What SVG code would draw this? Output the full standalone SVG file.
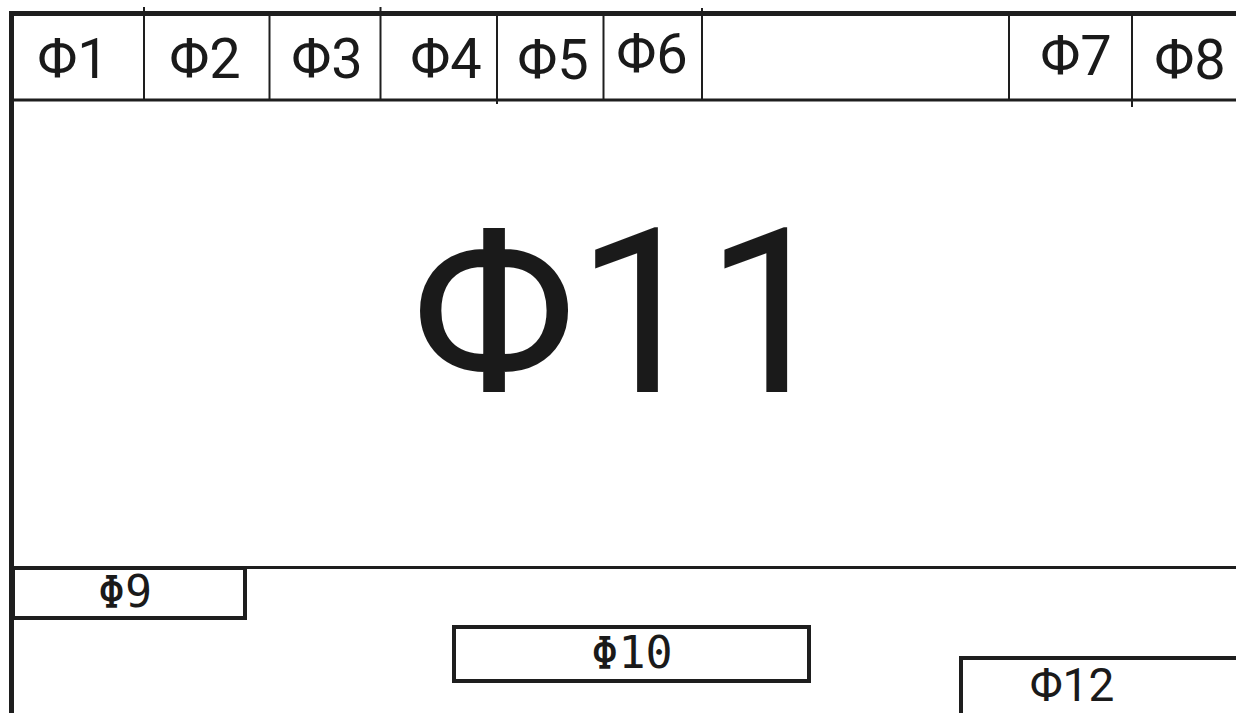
<svg xmlns="http://www.w3.org/2000/svg" width="1236" height="713" viewBox="0 0 1236 713">
<style>
.ln{stroke:#1e1e1e;fill:none}
.bx{stroke:#1e1e1e;fill:#fff;stroke-width:4}
.hd{font-family:Roboto,"Liberation Sans",sans-serif;font-size:56px;fill:#1a1a1a;text-anchor:middle}
.mono{font-family:"DejaVu Sans Mono","Liberation Mono",monospace;font-size:45px;fill:#1a1a1a;text-anchor:middle}
</style>
<rect width="1236" height="713" fill="#fff"/>
<g id="frame">
<line class="ln" x1="11.5" y1="11" x2="11.5" y2="713" stroke-width="5"/>
<line class="ln" x1="9" y1="13.5" x2="1236" y2="13.5" stroke-width="5"/>
<line class="ln" x1="11" y1="100" x2="1236" y2="100" stroke-width="3"/>
<line class="ln" x1="11" y1="567.5" x2="1236" y2="567.5" stroke-width="3"/>
</g>
<g id="dividers">
<line class="ln" x1="144" y1="7" x2="144" y2="101" stroke-width="2"/>
<line class="ln" x1="269.5" y1="11" x2="269.5" y2="101" stroke-width="2"/>
<line class="ln" x1="380.5" y1="7" x2="380.5" y2="101" stroke-width="2"/>
<line class="ln" x1="497" y1="11" x2="497" y2="104" stroke-width="2"/>
<line class="ln" x1="603.5" y1="11" x2="603.5" y2="101" stroke-width="2"/>
<line class="ln" x1="702" y1="8" x2="702" y2="101" stroke-width="2"/>
<line class="ln" x1="1009" y1="11" x2="1009" y2="101" stroke-width="2"/>
<line class="ln" x1="1132" y1="11" x2="1132" y2="107" stroke-width="2"/>
</g>
<g id="n1"><text class="hd" x="73" y="78">Φ1</text></g>
<g id="n2"><text class="hd" x="205" y="78">Φ2</text></g>
<g id="n3"><text class="hd" x="327" y="78">Φ3</text></g>
<g id="n4"><text class="hd" x="446" y="78">Φ4</text></g>
<g id="n5"><text class="hd" x="553" y="79">Φ5</text></g>
<g id="n6"><text class="hd" x="652" y="73">Φ6</text></g>
<g id="n7"><text class="hd" x="1076" y="75">Φ7</text></g>
<g id="n8"><text class="hd" x="1190" y="79">Φ8</text></g>
<g id="n11"><text x="623" y="392" font-family="Roboto,'Liberation Sans',sans-serif" font-size="230" fill="#1a1a1a" text-anchor="middle">Φ11</text></g>
<g id="n9">
<rect class="bx" x="13" y="568" width="232" height="50"/>
<text class="mono" x="125" y="607">Φ9</text>
</g>
<g id="n10">
<rect class="bx" x="454" y="627" width="355" height="54"/>
<text class="mono" x="632" y="668">Φ10</text>
</g>
<g id="n12">
<rect class="bx" x="961" y="658" width="290" height="70"/>
<text x="1072" y="701" font-family="Roboto,'Liberation Sans',sans-serif" font-size="46" fill="#1a1a1a" text-anchor="middle">Φ12</text>
</g>
</svg>
